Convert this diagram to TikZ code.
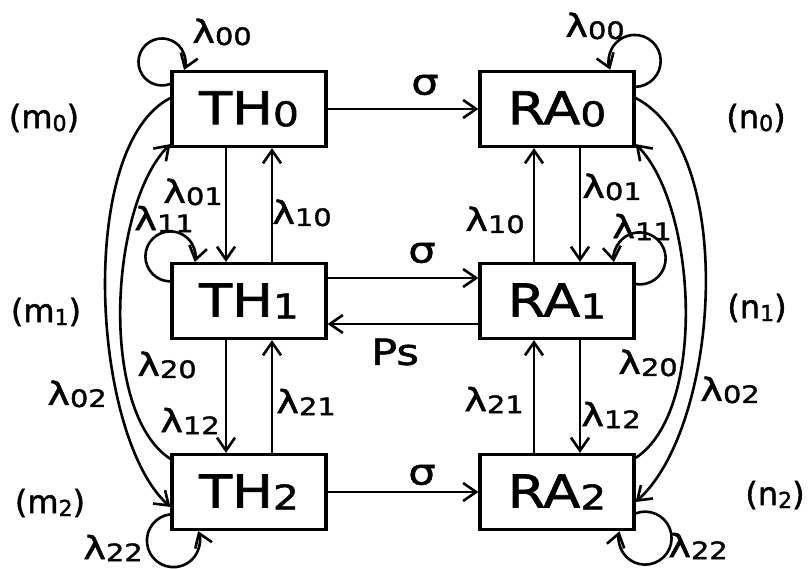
\documentclass[tikz,border=0pt]{standalone}
\usepackage{fontspec}
\setmainfont{DejaVu Sans}[FakeStretch=1.2, FakeBold=1.5]
\newfontfamily\occfont{DejaVu Sans}[FakeBold=1.5]
\usetikzlibrary{arrows.meta}

\newcommand{\statelbl}[2]{#1\raisebox{-1pt}{\fontsize{17}{17}\selectfont #2}}
\newcommand{\lamlbl}[1]{λ\raisebox{-1pt}{\fontsize{12}{12}\selectfont #1}}
\newcommand{\occlbl}[2]{{\occfont(#1\raisebox{-1.5pt}{\fontsize{11}{11}\selectfont #2})}}

\begin{document}
\begin{tikzpicture}[x=0.5pt, y=0.5pt,
    state/.style={draw, line width=1.6pt, minimum width=77pt, minimum height=37.5pt,
      inner sep=0pt, font=\fontsize{22.6}{24}\selectfont},
    lbl/.style={inner sep=0pt, font=\fontsize{16}{18}\selectfont},
    arr/.style={line width=1.3pt, -{Straight Barb[length=6.5pt,width=9pt]}}]
  \useasboundingbox (0,0) rectangle (809,568);

  % states
  \foreach \i/\y in {0/459, 1/267, 2/76} {
    \node[state] (TH\i) at (249,\y) {\statelbl{TH}{\i}};
    \node[state] (RA\i) at (557,\y) {\statelbl{RA}{\i}};
  }

  % labels
  \foreach \nm/\x/\y/\t in {la00/222/536/00, la01/193/376/01, la11/164/349/11,
      la10/302/355/10, la20/167/203/20, la02/77/174/02, la12/190/147/12,
      la21/306/166/21, la22/113/20/22,
      lb00/595/542/00, lb01/612/381/01, lb11/642/341/11, lb10/495/348/10,
      lb20/648/205/20, lb02/730/178/02, lb21/494/168/21, lb12/611/153/12,
      lb22/698/22/22} {
    \node[lbl] (\nm) at (\x,\y) {\lamlbl{\t}};
  }
  \node[lbl] (m0) at (44,450) {\occlbl{m}{0}};
  \node[lbl] (m1) at (46,256) {\occlbl{m}{1}};
  \node[lbl] (m2) at (50,65) {\occlbl{m}{2}};
  \node[lbl] (n0) at (756,450) {\occlbl{n}{0}};
  \node[lbl] (n1) at (757,260) {\occlbl{n}{1}};
  \node[lbl] (n2) at (775,73) {\occlbl{n}{2}};
  \node[lbl, font=\fontsize{18}{20}\selectfont] (sig0) at (425,483) {σ};
  \node[lbl, font=\fontsize{18}{20}\selectfont] (sig1) at (422,315) {σ};
  \node[lbl, font=\fontsize{18}{20}\selectfont] (sig2) at (422,93) {σ};
  \node[lbl, font=\fontsize{18}{20}\selectfont] (ps) at (395,216) {Ps};

  % transfers TH -> RA
  \draw[arr] (TH0.east) -- (RA0.west);
  \draw[arr] ([yshift=11.5pt]TH1.east) -- ([yshift=11.5pt]RA1.west);
  \draw[arr] ([yshift=-11.5pt]RA1.west) -- ([yshift=-11.5pt]TH1.east);
  \draw[arr] (TH2.east) -- (RA2.west);

  % neighbouring states
  \foreach \a/\b in {0/1, 1/2} {
    \draw[arr] ([xshift=-11.5pt]TH\a.south) -- ([xshift=-11.5pt]TH\b.north);
    \draw[arr] ([xshift=11.5pt]TH\b.north) -- ([xshift=11.5pt]TH\a.south);
    \draw[arr] ([xshift=11.5pt]RA\a.south) -- ([xshift=11.5pt]RA\b.north);
    \draw[arr] ([xshift=-11.5pt]RA\b.north) -- ([xshift=-11.5pt]RA\a.south);
  }

  % 0 <-> 2
  \draw[arr] ([yshift=5.5pt]TH0.west) to[out=207, in=138, distance=53pt] ([yshift=-7.5pt]TH2.west);
  \draw[arr] ([yshift=-3pt]TH2.north west) to[out=147, in=225, distance=43pt] ([yshift=2pt]TH0.south west);
  \draw[arr] ([yshift=5.5pt]RA0.east) to[out=-27, in=42, distance=57pt] ([yshift=-5pt]RA2.east);
  \draw[arr] ([yshift=-2.5pt]RA2.north east) to[out=33, in=-45, distance=43pt] ([yshift=2pt]RA0.south east);

  % self loops
  \draw[arr] ([yshift=-7pt]TH0.north west) arc[start angle=-69, end angle=-380, radius=11.75pt];
  \draw[arr] ([yshift=-9.75pt]TH1.north west) arc[start angle=-90, end angle=-373, radius=12.5pt];
  \draw[arr] ([yshift=8.4pt]TH2.south west) arc[start angle=96.5, end angle=381, radius=13.25pt];
  \draw[arr] ([yshift=-8.5pt]RA0.north east) arc[start angle=272, end angle=560, radius=13pt];
  \draw[arr] ([yshift=-11.1pt]RA1.north east) arc[start angle=261, end angle=548, radius=13pt];
  \draw[arr] ([yshift=8.85pt]RA2.south east) arc[start angle=111, end angle=-195, radius=13.25pt];
\end{tikzpicture}
\end{document}
